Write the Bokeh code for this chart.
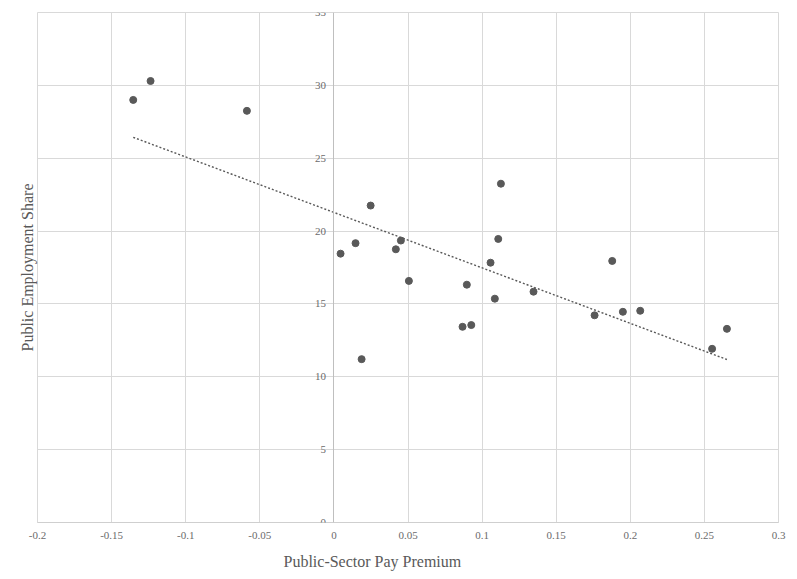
import numpy as np
from bokeh.plotting import figure
from bokeh.models import FixedTicker, LinearAxis, Title, Range1d, ColumnDataSource
from bokeh.embed import file_html
from bokeh.resources import INLINE

# Data
pay_premium = [-0.1354, -0.1237, -0.0587, 0.0045, 0.0146, 0.0187, 0.0248, 0.0418,
               0.0452, 0.0506, 0.0868, 0.0897, 0.0927, 0.1057, 0.1086, 0.1109,
               0.1127, 0.1347, 0.1759, 0.1878, 0.1950, 0.2067, 0.2552, 0.2652]
employment_share = [29.0, 30.3, 28.25, 18.45, 19.17, 11.21, 21.75, 18.75,
                    19.35, 16.58, 13.43, 16.32, 13.55, 17.83, 15.36, 19.46,
                    23.25, 15.84, 14.22, 17.95, 14.46, 14.53, 11.92, 13.29]

x_ticks = [-0.2, -0.15, -0.1, -0.05, 0.0, 0.05, 0.1, 0.15, 0.2, 0.25, 0.3]
x_tick_labels = ["-0.2", "-0.15", "-0.1", "-0.05", "0", "0.05", "0.1", "0.15", "0.2", "0.25", "0.3"]
y_ticks = [0, 5, 10, 15, 20, 25, 30, 35]

x_title = "Public-Sector Pay Premium"
y_title = "Public Employment Share"

FONT = "Liberation Serif"
GRID = "#d9d9d9"
LABEL = "#6b6b6b"
TITLE = "#595959"
MARK = "#595959"

p = figure(width=789, height=579, x_range=Range1d(-0.2, 0.3), y_range=Range1d(0, 35),
           output_backend="svg", toolbar_location=None,
           min_border_left=37, min_border_right=11, min_border_top=12, min_border_bottom=57,
           background_fill_color="white", border_fill_color="white")
p.outline_line_color = GRID

# X axis (bottom)
xa = p.xaxis[0]
xa.ticker = FixedTicker(ticks=x_ticks)
xa.major_label_overrides = dict(zip(x_ticks, x_tick_labels))
xa.axis_line_color = "#cfcfcf"
xa.major_tick_line_color = None
xa.minor_tick_line_color = None
xa.major_tick_out = 0
xa.major_label_standoff = 9
xa.major_label_text_font = FONT
xa.major_label_text_font_size = "11px"
xa.major_label_text_color = LABEL

# Y axis crossing at x = 0
ya = p.yaxis[0]
ya.ticker = FixedTicker(ticks=y_ticks)
ya.fixed_location = 0
ya.axis_line_color = "#bfbfbf"
ya.major_tick_line_color = None
ya.minor_tick_line_color = None
ya.major_tick_out = 0
ya.major_label_standoff = 8
ya.major_label_text_font = FONT
ya.major_label_text_font_size = "11px"
ya.major_label_text_color = LABEL

# Y title axis (title only)
yt = LinearAxis(axis_label=y_title, ticker=FixedTicker(ticks=[]),
                axis_line_color=None, major_tick_line_color=None, minor_tick_line_color=None,
                major_label_text_font_size="0px", axis_label_standoff=2,
                axis_label_text_font=FONT, axis_label_text_font_size="16px",
                axis_label_text_font_style="normal", axis_label_text_color=TITLE)
p.add_layout(yt, "left")

# X title
p.add_layout(Title(text=x_title, align="left", offset=246, standoff=18,
                   text_font=FONT, text_font_size="16px", text_font_style="normal",
                   text_color=TITLE), "below")

p.xgrid.ticker = FixedTicker(ticks=x_ticks)
p.ygrid.ticker = FixedTicker(ticks=y_ticks)
p.xgrid.grid_line_color = GRID
p.ygrid.grid_line_color = GRID

src = ColumnDataSource(dict(x=pay_premium, y=employment_share))
p.scatter("x", "y", source=src, size=7, fill_color=MARK, line_color=MARK)

# Linear trendline fitted to the data
slope, intercept = np.polyfit(pay_premium, employment_share, 1)
tx = np.array([min(pay_premium), max(pay_premium)])
p.line(tx, slope * tx + intercept, line_dash="2 2", line_width=1.4, line_color="#595959")

open("out.html", "w").write(file_html(p, INLINE))
